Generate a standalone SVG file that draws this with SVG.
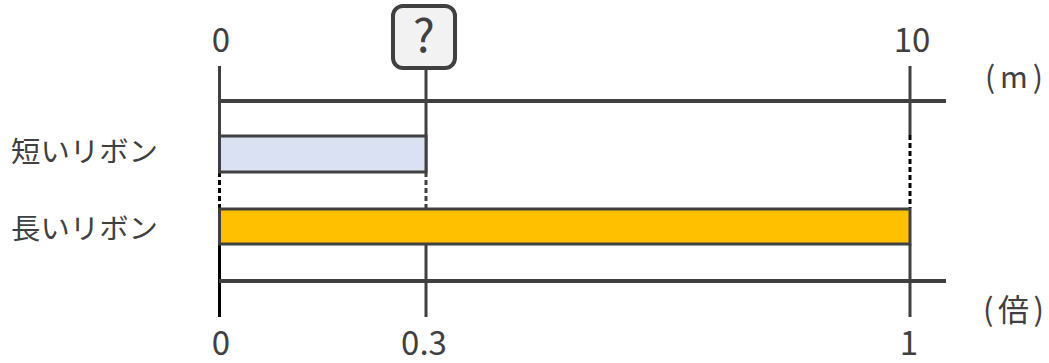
<svg xmlns="http://www.w3.org/2000/svg" width="1049" height="363" viewBox="0 0 1049 363">
<style>
.t{font-family:"Noto Sans CJK JP","Noto Sans",sans-serif;fill:#404040}
.num{font-size:33px;text-anchor:middle}
.lab{font-size:28px}
.ln{stroke:#404040;stroke-width:3;fill:none}
.ax{stroke:#404040;stroke-width:4;fill:none}
.dk{stroke:#000;stroke-width:3;fill:none}
.dash{stroke-dasharray:5 3}
</style>
<rect width="1049" height="363" fill="#fff"/>
<g id="connectors">
<line class="ln" x1="219.5" y1="66" x2="219.5" y2="136"/>
<line class="dk dash" x1="219.5" y1="172" x2="219.5" y2="208"/>
<line class="dk" x1="219.5" y1="244" x2="219.5" y2="317"/>
<line class="ln" x1="426" y1="69" x2="426" y2="172"/>
<line class="ln dash" x1="426" y1="172" x2="426" y2="208"/>
<line class="ln" x1="426" y1="244" x2="426" y2="317"/>
<line class="ln" x1="910" y1="66" x2="910" y2="135"/>
<line class="dk dash" x1="910" y1="135" x2="910" y2="208"/>
<line class="ln" x1="910" y1="244" x2="910" y2="317"/>
<line class="ax" x1="219" y1="101" x2="946" y2="101"/>
<line class="ax" x1="219" y1="281" x2="946" y2="281"/>
</g>
<g id="short-ribbon">
<rect x="219.5" y="136" width="206.5" height="36" fill="#dae1f3" stroke="#404040" stroke-width="3"/>
<text class="t lab" x="11" y="162" textLength="147" lengthAdjust="spacingAndGlyphs">短いリボン</text>
</g>
<g id="long-ribbon">
<rect x="219.5" y="209" width="690.5" height="35" fill="#ffc000" stroke="#404040" stroke-width="3"/>
<text class="t lab" x="11" y="239" textLength="147" lengthAdjust="spacingAndGlyphs">長いリボン</text>
</g>
<g id="question">
<rect x="393" y="6" width="62" height="62" rx="10" fill="#f2f2f2" stroke="#404040" stroke-width="4"/>
<text class="t" x="424" y="52" font-size="46" text-anchor="middle">?</text>
</g>
<g id="top-scale">
<text class="t num" x="221" y="52">0</text>
<text class="t num" x="912" y="52">10</text>
<text class="t" x="985" y="88" font-size="30" textLength="58" lengthAdjust="spacing">(m)</text>
</g>
<g id="bottom-scale">
<text class="t num" x="221" y="355">0</text>
<text class="t num" x="424" y="355">0.3</text>
<text class="t num" x="909" y="355">1</text>
<text class="t" x="983" y="321" font-size="31" textLength="61" lengthAdjust="spacing">(倍)</text>
</g>
</svg>
